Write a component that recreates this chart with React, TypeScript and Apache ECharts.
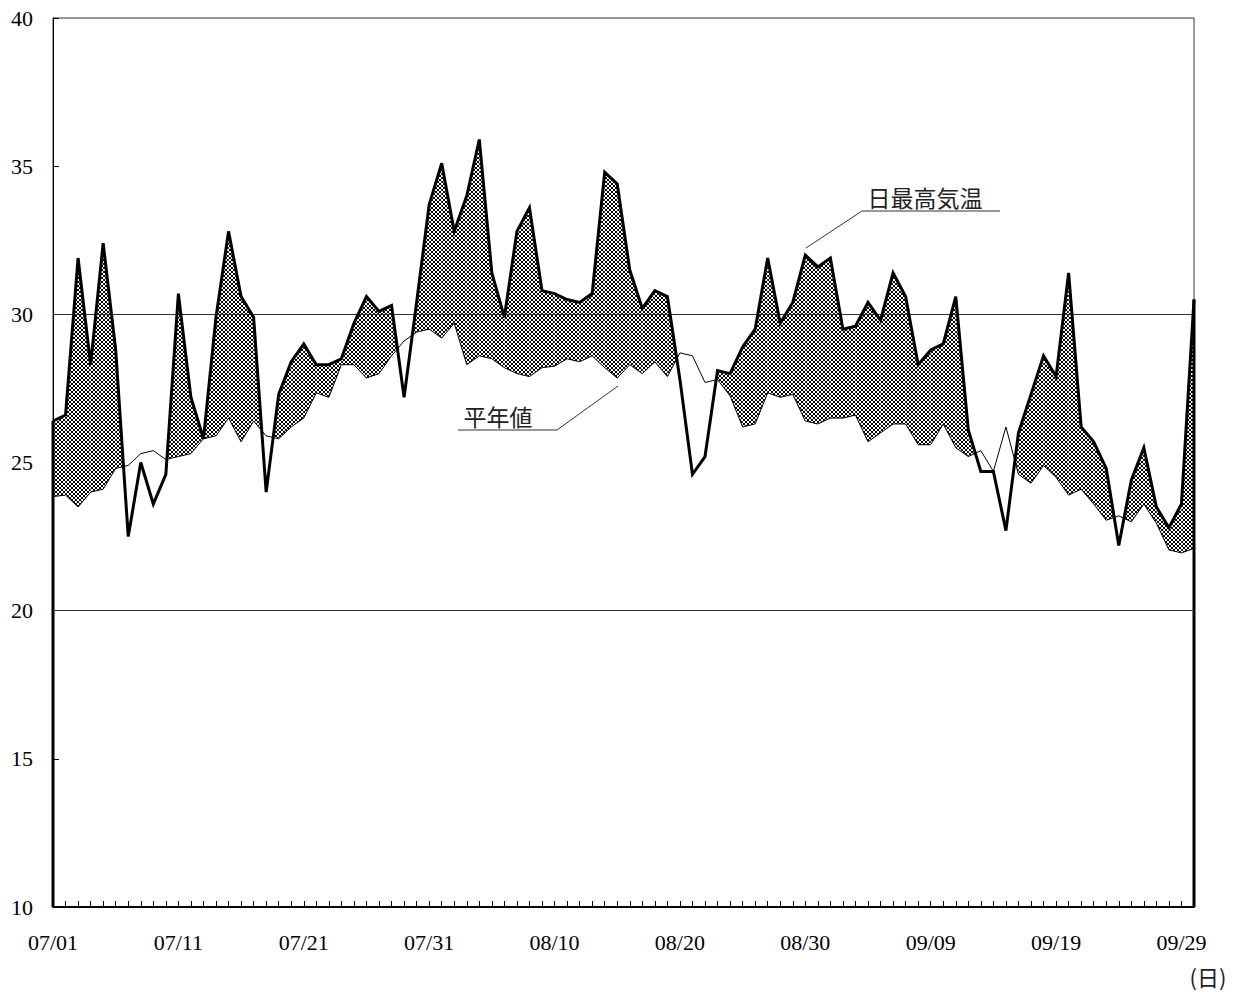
import React, { useEffect, useRef } from "react";
import * as echarts from "echarts";

const monthLengths: [string, number][] = [["07", 31], ["08", 31], ["09", 30]];
const dates: string[] = [];
monthLengths.forEach(([m, n]) => {
  for (let d = 1; d <= n; d++) dates.push(`${m}/${String(d).padStart(2, "0")}`);
});

const maxTemp: number[] = [
  26.4, 26.6, 31.9, 28.3, 32.4, 28.8, 22.5, 25.0, 23.6, 24.6,
  30.7, 27.2, 25.8, 29.9, 32.8, 30.6, 29.9, 24.0, 27.3, 28.4,
  29.0, 28.3, 28.3, 28.5, 29.7, 30.6, 30.1, 30.3, 27.2, 30.4,
  33.7, 35.1, 32.8, 34.0, 35.9, 31.4, 29.9, 32.8, 33.6, 30.8,
  30.7, 30.5, 30.4, 30.7, 34.8, 34.4, 31.5, 30.2, 30.8, 30.6,
  27.8, 24.6, 25.2, 28.1, 28.0, 28.9, 29.5, 31.9, 29.7, 30.4,
  32.0, 31.6, 31.9, 29.5, 29.6, 30.4, 29.8, 31.4, 30.6, 28.3,
  28.8, 29.0, 30.6, 26.1, 24.7, 24.7, 22.7, 26.0, 27.3, 28.6,
  27.9, 31.4, 26.2, 25.7, 24.8, 22.2, 24.4, 25.5, 23.5, 22.8,
  23.6, 30.5,
];

const normalTemp: number[] = [
  23.85, 23.9, 23.5, 24.0, 24.1, 24.8, 24.9, 25.3, 25.4, 25.1,
  25.2, 25.3, 25.8, 25.9, 26.5, 25.7, 26.4, 25.9, 25.8, 26.2,
  26.5, 27.35, 27.2, 28.3, 28.3, 27.85, 28.0, 28.6, 29.1, 29.4,
  29.5, 29.2, 29.7, 28.3, 28.6, 28.5, 28.2, 28.0, 27.9, 28.2,
  28.25, 28.5, 28.4, 28.6, 28.2, 27.85, 28.3, 28.0, 28.4, 27.9,
  28.7, 28.6, 27.7, 27.8, 27.25, 26.2, 26.3, 27.35, 27.2, 27.3,
  26.4, 26.3, 26.5, 26.5, 26.6, 25.7, 26.0, 26.3, 26.3, 25.6,
  25.6, 26.3, 25.5, 25.2, 25.4, 24.7, 26.2, 24.6, 24.3, 24.9,
  24.5, 23.9, 24.1, 23.6, 23.05, 23.2, 23.0, 23.6, 22.95, 22.05,
  21.95, 22.1,
];

const yTicks = { min: 10, max: 40, interval: 5 };
const refLines: number[] = [20, 30];

function makeHatch(): HTMLCanvasElement {
  const s = 4;
  const c = document.createElement("canvas");
  c.width = s;
  c.height = s;
  const ctx = c.getContext("2d")!;
  ctx.fillStyle = "#ffffff";
  ctx.fillRect(0, 0, s, s);
  ctx.strokeStyle = "#000000";
  ctx.lineWidth = 1.0;
  for (const k of [-s, 0, s]) {
    ctx.beginPath();
    ctx.moveTo(k - 1, -1);
    ctx.lineTo(k + s + 1, s + 1);
    ctx.stroke();
    ctx.beginPath();
    ctx.moveTo(k + s + 1, -1);
    ctx.lineTo(k - 1, s + 1);
    ctx.stroke();
  }
  return c;
}

export default function App() {
  const ref = useRef<HTMLDivElement>(null);
  useEffect(() => {
    if (!ref.current) return;
    const chart = echarts.init(ref.current, null, { renderer: "svg" });
    const hatch: any = {
      image: makeHatch(),
      repeat: "repeat",
      imageWidth: 4,
      imageHeight: 4,
    };
    const serif = '"Liberation Serif", "Times New Roman", serif';
    const gothic = '"Noto Sans CJK JP", "Noto Sans", sans-serif';

    const segData = maxTemp.slice(0, maxTemp.length - 1).map((v, i) => [i, v]);

    chart.setOption({
      animation: false,
      backgroundColor: "#ffffff",
      grid: {
        left: 53,
        right: 46,
        top: 18,
        bottom: 85,
        show: true,
        borderColor: "#333",
        borderWidth: 1,
        outerBoundsMode: "none",
      },
      xAxis: {
        type: "category",
        data: dates,
        boundaryGap: false,
        axisLine: { show: true, lineStyle: { color: "#000", width: 2 } },
        axisTick: { show: true, inside: true, length: 6, interval: 0, lineStyle: { color: "#000", width: 1 } },
        axisLabel: { interval: 9, margin: 24, fontSize: 22, fontFamily: serif, color: "#000" },
        splitLine: { show: false },
      },
      yAxis: {
        type: "value",
        min: yTicks.min,
        max: yTicks.max,
        interval: yTicks.interval,
        axisLine: { show: true, lineStyle: { color: "#000", width: 1 } },
        axisTick: { show: true, inside: true, length: 6, lineStyle: { color: "#000" } },
        axisLabel: { margin: 20, fontSize: 22, fontFamily: serif, color: "#000" },
        splitLine: { show: false },
      },
      series: [
        {
          type: "custom",
          name: "hatch",
          silent: true,
          data: segData,
          encode: { x: 0, y: 1 },
          z: 1,
          renderItem: (params: any, api: any) => {
            const i = api.value(0) as number;
            const a0 = maxTemp[i], a1 = maxTemp[i + 1];
            const n0 = normalTemp[i], n1 = normalTemp[i + 1];
            const d0 = a0 - n0, d1 = a1 - n1;
            const pA0 = api.coord([i, a0]);
            const pA1 = api.coord([i + 1, a1]);
            const pN0 = api.coord([i, n0]);
            const pN1 = api.coord([i + 1, n1]);
            let pts: number[][] | null = null;
            if (d0 >= 0 && d1 >= 0) {
              pts = [pA0, pA1, pN1, pN0];
            } else if (d0 > 0 && d1 < 0) {
              const t = d0 / (d0 - d1);
              const x = pA0[0] + t * (pA1[0] - pA0[0]);
              const y = pA0[1] + t * (pA1[1] - pA0[1]);
              pts = [pA0, [x, y], pN0];
            } else if (d0 < 0 && d1 > 0) {
              const t = d0 / (d0 - d1);
              const x = pA0[0] + t * (pA1[0] - pA0[0]);
              const y = pA0[1] + t * (pA1[1] - pA0[1]);
              pts = [[x, y], pA1, pN1];
            }
            if (!pts) return null;
            return {
              type: "polygon",
              shape: { points: pts },
              style: { fill: hatch, stroke: null },
            };
          },
        },
        {
          type: "line",
          name: "平年値",
          data: normalTemp,
          symbol: "none",
          z: 3,
          lineStyle: { color: "#000", width: 1 },
          markLine: {
            silent: true,
            symbol: "none",
            label: { show: false },
            lineStyle: { color: "#333", width: 1, type: "solid" },
            data: refLines.map((v) => ({ yAxis: v })),
          },
        },
        {
          type: "custom",
          name: "edges",
          silent: true,
          data: [[0, maxTemp[0]], [maxTemp.length - 1, maxTemp[maxTemp.length - 1]]],
          encode: { x: 0, y: 1 },
          z: 4,
          renderItem: (params: any, api: any) => {
            const i = api.value(0) as number;
            const top = api.coord([i, maxTemp[i]]);
            const bot = api.coord([i, yTicks.min]);
            return {
              type: "line",
              shape: { x1: top[0], y1: top[1], x2: bot[0], y2: bot[1] },
              style: { stroke: "#000", lineWidth: 3 },
            };
          },
        },
        {
          type: "line",
          name: "日最高気温",
          data: maxTemp,
          symbol: "none",
          z: 5,
          lineStyle: { color: "#000", width: 3, join: "miter" },
        },
      ],
      graphic: [
        {
          type: "text",
          x: 925,
          y: 197,
          style: { text: "日最高気温", fontSize: 23, fontFamily: gothic, fill: "#222", align: "center", verticalAlign: "middle" },
        },
        {
          type: "polyline",
          shape: { points: [[806, 248], [862, 211], [1000, 211]] },
          style: { stroke: "#333", lineWidth: 1, fill: "none" },
        },
        {
          type: "text",
          x: 498,
          y: 416,
          style: { text: "平年値", fontSize: 23, fontFamily: gothic, fill: "#222", align: "center", verticalAlign: "middle" },
        },
        {
          type: "polyline",
          shape: { points: [[458, 430], [557, 430], [618, 386]] },
          style: { stroke: "#333", lineWidth: 1, fill: "none" },
        },
        {
          type: "text",
          x: 1208,
          y: 976,
          style: { text: "(日)", fontSize: 22, fontFamily: gothic, fill: "#222", align: "center", verticalAlign: "middle" },
        },
      ],
    });
    return () => chart.dispose();
  }, []);
  return (
    <div
      ref={ref}
      style={{ position: "fixed", left: 0, top: 0, width: 1240, height: 992, background: "#fff" }}
    />
  );
}
